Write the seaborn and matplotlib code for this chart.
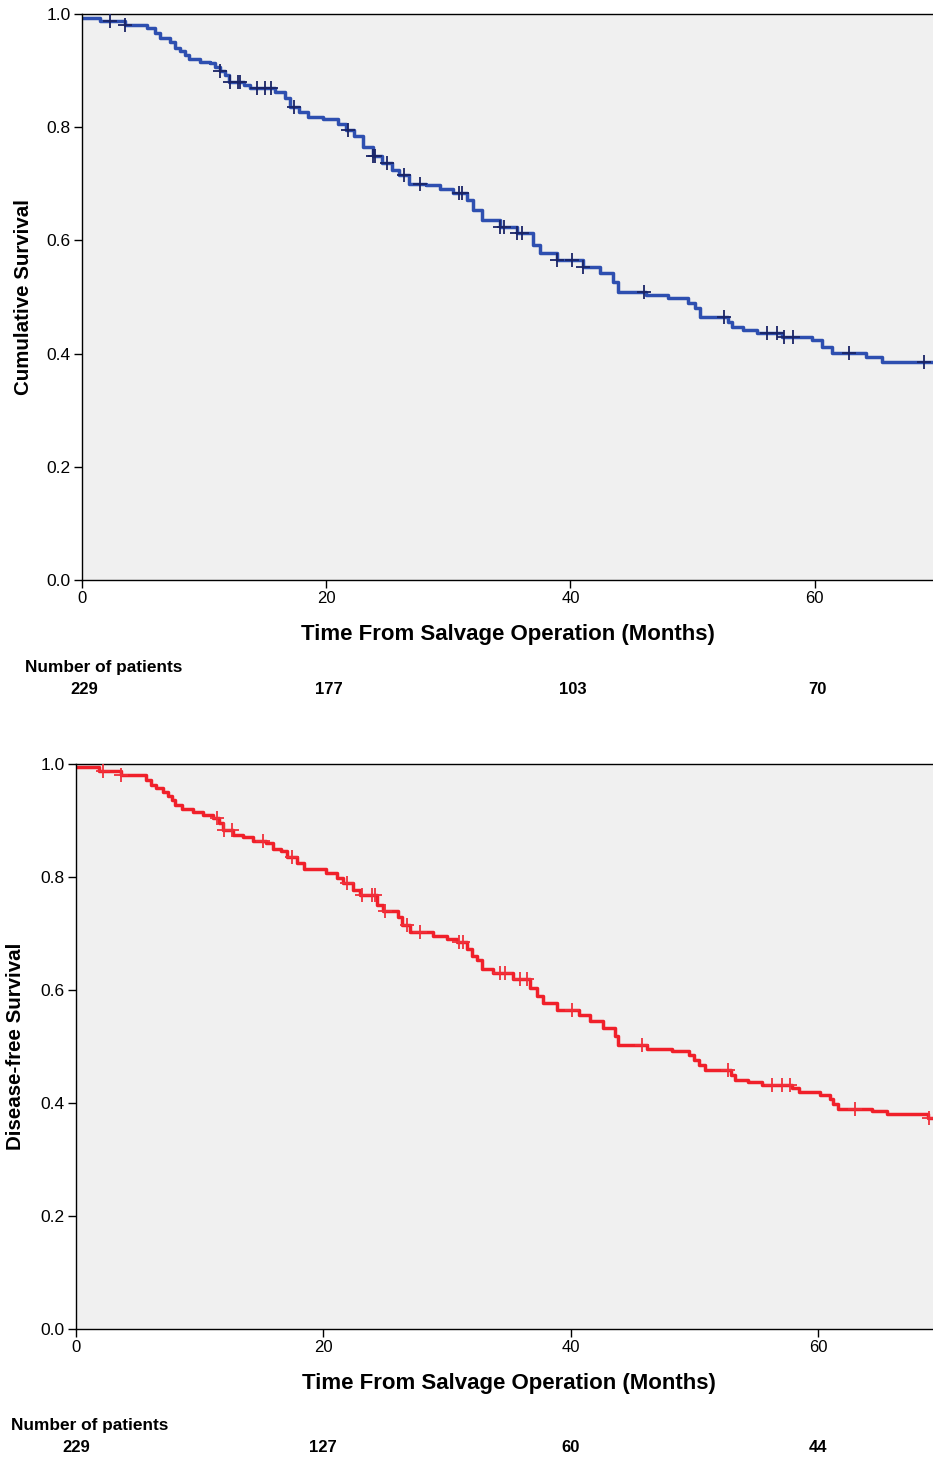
import numpy as np
import pandas as pd
import matplotlib.pyplot as plt
import matplotlib.transforms as mtransforms
import seaborn as sns

# Overall survival (top panel): step times (months) and survival after each step
os_time = [0, 1.5, 3.5, 5.3, 6.0, 6.4, 7.2, 7.6, 8.0, 8.4, 8.8, 9.7, 10.5, 10.9, 11.3,
           11.7, 12.0, 13.3, 13.8, 15.8, 16.6, 17.0, 17.8, 18.5, 19.7, 21.0, 21.6, 22.3,
           23.0, 23.8, 24.6, 25.4, 26.0, 26.8, 28.2, 29.3, 30.4, 31.5, 32.0, 32.8, 34.2, 35.6,
           36.9, 37.5, 38.9, 41.0, 42.4, 43.5, 43.9, 46.2, 48.0, 49.6, 50.2, 50.6, 52.9,
           53.2, 54.1, 55.3, 57.3, 59.8, 60.6, 61.4, 64.2, 65.5, 71.0]
os_surv = [0.993, 0.988, 0.980, 0.975, 0.966, 0.957, 0.950, 0.940, 0.935, 0.928, 0.920,
           0.915, 0.913, 0.906, 0.900, 0.892, 0.880, 0.875, 0.869, 0.862, 0.852, 0.836,
           0.827, 0.818, 0.814, 0.805, 0.795, 0.785, 0.765, 0.750, 0.737, 0.725, 0.716,
           0.700, 0.698, 0.690, 0.684, 0.671, 0.654, 0.636, 0.624, 0.613, 0.592, 0.578,
           0.565, 0.553, 0.542, 0.527, 0.509, 0.504, 0.498, 0.489, 0.480, 0.465, 0.456,
           0.447, 0.442, 0.436, 0.429, 0.424, 0.412, 0.401, 0.394, 0.385, 0.380]
os_censored = [2.3, 3.5, 11.3, 12.1, 12.8, 12.9, 14.3, 15.0, 15.5, 17.4, 21.8, 23.8, 24.0,
               25.0, 26.4, 27.7, 30.9, 31.1, 34.2, 34.6, 35.6, 36.0, 38.9, 40.1, 41.0,
               46.0, 52.6, 56.1, 56.9, 57.5, 58.2, 62.8, 69.0]

# Disease-free survival (bottom panel)
dfs_time = [0, 1.9, 3.6, 5.7, 6.1, 6.5, 7.0, 7.4, 7.8, 8.0, 8.6, 9.5, 10.3, 11.1, 11.6,
            11.9, 12.7, 13.5, 14.3, 15.4, 15.9, 16.6, 17.1, 17.9, 18.4, 20.2, 21.1, 21.6,
            22.4, 23.0, 24.3, 24.8, 26.0, 26.4, 27.0, 28.9, 30.0, 30.8, 31.6, 32.0, 32.4,
            32.8, 33.7, 35.3, 36.7, 37.3, 37.8, 38.9, 40.7, 41.6, 42.6, 43.6, 43.8, 46.2,
            48.2, 49.6, 50.0, 50.4, 50.9, 53.0, 53.3, 54.3, 55.5, 57.9, 58.5, 60.2, 61.0,
            61.2, 61.6, 64.4, 65.6, 68.9, 71.0]
dfs_surv = [0.995, 0.988, 0.980, 0.972, 0.963, 0.958, 0.950, 0.943, 0.936, 0.927, 0.920,
            0.915, 0.910, 0.904, 0.896, 0.883, 0.875, 0.870, 0.864, 0.860, 0.850, 0.846,
            0.836, 0.825, 0.814, 0.807, 0.798, 0.789, 0.777, 0.768, 0.750, 0.739, 0.730,
            0.715, 0.703, 0.695, 0.690, 0.685, 0.673, 0.660, 0.653, 0.638, 0.630, 0.620,
            0.604, 0.589, 0.577, 0.565, 0.556, 0.545, 0.533, 0.519, 0.503, 0.496, 0.492,
            0.485, 0.476, 0.467, 0.458, 0.450, 0.441, 0.437, 0.431, 0.426, 0.419, 0.414,
            0.407, 0.398, 0.390, 0.385, 0.381, 0.374, 0.372]
dfs_censored = [2.2, 3.6, 11.4, 12.0, 12.6, 15.1, 17.5, 21.9, 23.1, 23.9, 24.2, 25.0, 26.8,
                27.8, 31.0, 31.3, 34.3, 34.7, 35.9, 36.5, 40.1, 45.8, 52.7, 56.3, 57.1,
                57.7, 63.0, 69.0]

risk_times = [0, 20, 40, 60]
os_at_risk = [229, 177, 103, 70]
dfs_at_risk = [229, 127, 60, 44]

sns.set_theme(style='ticks')
plt.rcParams['font.family'] = ['Liberation Sans', 'DejaVu Sans']
plt.rcParams.update({'text.color': 'black', 'axes.labelcolor': 'black',
                     'xtick.color': 'black', 'ytick.color': 'black'})

fig = plt.figure(figsize=(9.33, 14.59), dpi=100)


def km_panel(rect, t, s, cens, color, cens_color, ylab, xmax, at_risk, geom):
    ax = fig.add_axes(rect)
    ax.set_facecolor('#f0f0f0')
    steps = pd.DataFrame({'time': t, 'surv': s})
    sns.lineplot(data=steps, x='time', y='surv', drawstyle='steps-post', estimator=None,
                 sort=False, color=color, lw=2.5, ax=ax)
    idx = np.searchsorted(t, cens, side='right') - 1
    marks = pd.DataFrame({'time': cens, 'surv': np.array(s)[idx]})
    sns.scatterplot(data=marks, x='time', y='surv', marker='+', s=100, color=cens_color,
                    linewidth=1.3, ax=ax, zorder=3)

    ax.set_xlim(0, xmax)
    ax.set_ylim(0, 1.0)
    ax.set_xticks(risk_times)
    ax.set_yticks(np.arange(0, 1.01, 0.2))
    ax.set_yticklabels([f'{v:.1f}' for v in np.arange(0, 1.01, 0.2)])
    ax.tick_params(axis='x', labelsize=12)
    ax.tick_params(axis='y', labelsize=12.5)
    ax.tick_params(direction='out', length=6, width=1, color='black', pad=2)
    for side in ['left', 'bottom', 'top']:
        ax.spines[side].set_visible(True)
        ax.spines[side].set_color('black')
        ax.spines[side].set_linewidth(1.0)
    ax.spines['right'].set_visible(False)

    ax.set_xlabel('Time From Salvage Operation (Months)', fontsize=16, fontweight='bold')
    ax.xaxis.set_label_coords(geom['xl_x'], geom['xl_y'])
    ax.set_ylabel(ylab, fontsize=14.8, fontweight='bold')
    ax.yaxis.set_label_coords(geom['yl_x'], 0.5)

    ax.text(geom['np_x'], geom['np_y'], 'Number of patients', transform=ax.transAxes,
            fontsize=12.4, fontweight='bold', va='center', ha='left')
    trans = mtransforms.blended_transform_factory(ax.transData, ax.transAxes)
    for x, n in zip(risk_times, at_risk):
        ax.text(x + geom['nr_dx'], geom['nr_y'], str(n), transform=trans, fontsize=12,
                fontweight='bold', va='center', ha='center')
    return ax


km_panel([82 / 933, 1 - 580 / 1459, 1 - 82 / 933, 566 / 1459],
         os_time, os_surv, os_censored, '#2e4fb0', '#1a2466', 'Cumulative Survival',
         69.7, os_at_risk,
         dict(xl_x=0.5, xl_y=-0.078, yl_x=-0.058, np_x=-0.067, np_y=-0.155, nr_y=-0.194,
              nr_dx=0.2))

km_panel([76 / 933, 1 - 1329 / 1459, 1 - 76 / 933, 565 / 1459],
         dfs_time, dfs_surv, dfs_censored, '#f0202a', '#f0303a', 'Disease-free Survival',
         69.3, dfs_at_risk,
         dict(xl_x=0.505, xl_y=-0.077, yl_x=-0.06, np_x=-0.076, np_y=-0.170, nr_y=-0.209,
              nr_dx=0.0))

fig.savefig('out.png', dpi=100, facecolor='white')
